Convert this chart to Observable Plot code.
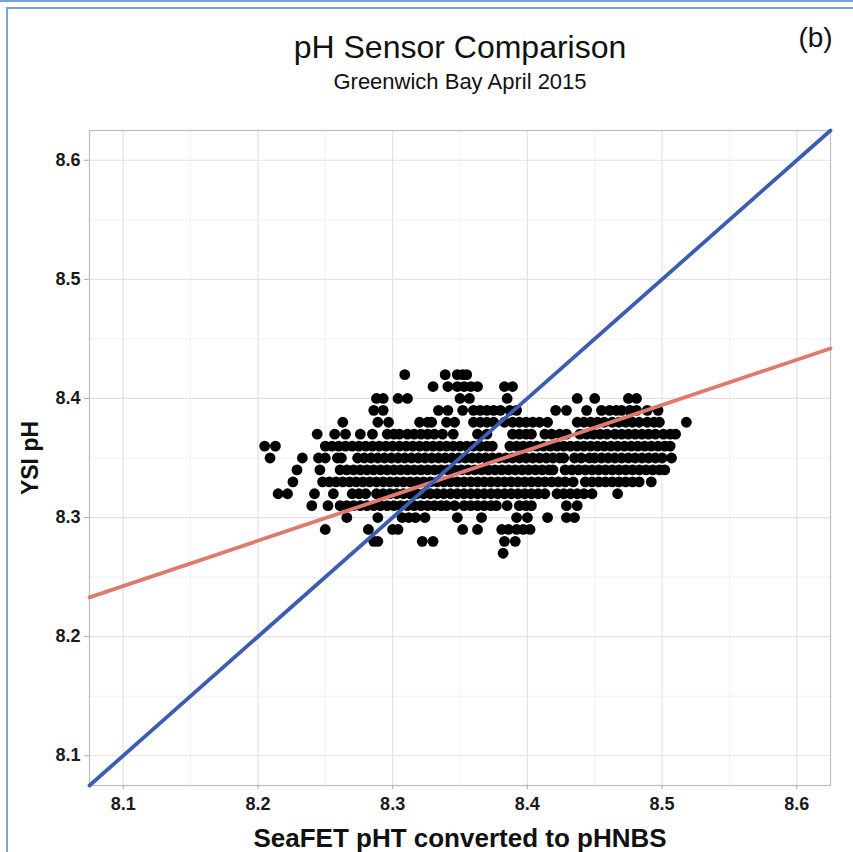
<!DOCTYPE html>
<html>
<head>
<meta charset="utf-8">
<script src="https://cdn.jsdelivr.net/npm/d3@7"></script>
<script src="https://cdn.jsdelivr.net/npm/@observablehq/plot@0.6"></script>
<style>
  body { margin: 0; background: #fff; font-family: "Liberation Sans", Arial, sans-serif; }
  #wrap { position: relative; width: 853px; height: 852px; overflow: hidden; }
  #topLine { position: absolute; left: 0; top: 0; width: 853px; height: 2px; background: #7ba3d9; }
  #box { position: absolute; left: 6px; top: 7px; width: 900px; height: 900px;
         border-left: 2px solid #7ba3d9; border-top: 2px solid #7ba3d9; }
  #chart { position: absolute; left: 0; top: 0; }
</style>
</head>
<body>
<div id="wrap">
  <div id="topLine"></div>
  <div id="box"></div>
  <div id="chart"></div>
</div>
<script>
// ---- Text ----
const titleText = "pH Sensor Comparison";
const subtitleText = "Greenwich Bay April 2015";
const panelTag = "(b)";
const xLabel = "SeaFET pHT converted to pHNBS";
const yLabel = "YSI pH";

// ---- Axes ----
const axisDomain = [8.075, 8.625];
const majorTicks = [8.1, 8.2, 8.3, 8.4, 8.5, 8.6];
const minorTicks = [8.15, 8.25, 8.35, 8.45, 8.55];

// ---- Reference lines ----
const oneToOneX = [8.075, 8.625];
const oneToOneY = [8.075, 8.625];
const fitX = [8.075, 8.625];
const fitY = [8.233, 8.442];

// ---- Observations: YSI pH rows and SeaFET values in each row ----
const ysiRows = [8.42, 8.41, 8.40, 8.39, 8.38, 8.37, 8.36, 8.35, 8.34, 8.33, 8.32, 8.31, 8.30, 8.29, 8.28, 8.27];
const seafetByRow = [
  [8.309, 8.339, 8.348, 8.352, 8.355],
  [8.330, 8.341, 8.348, 8.353, 8.358, 8.363, 8.383, 8.389],
  [8.288, 8.293, 8.304, 8.311, 8.350, 8.357, 8.385, 8.437, 8.450, 8.475, 8.481],
  [8.286, 8.293, 8.334, 8.341, 8.352, 8.360, 8.365, 8.370, 8.375, 8.380, 8.387, 8.392, 8.421, 8.429, 8.444, 8.455, 8.461, 8.466, 8.470, 8.476, 8.481, 8.489, 8.497],
  [8.263, 8.289, 8.297, 8.320, 8.326, 8.329, 8.340, 8.346, 8.360, 8.365, 8.370, 8.375, 8.383, 8.389, 8.394, 8.399, 8.404, 8.409, 8.415, 8.437, 8.442, 8.447, 8.452, 8.457, 8.463, 8.468, 8.473, 8.478, 8.483, 8.489, 8.494, 8.498, 8.518],
  [8.244, 8.257, 8.265, 8.276, 8.285, 8.296, 8.301, 8.305, 8.311, 8.316, 8.321, 8.326, 8.331, 8.337, 8.345, 8.363, 8.370, 8.389, 8.394, 8.399, 8.403, 8.413, 8.418, 8.424, 8.429, 8.439, 8.444, 8.449, 8.454, 8.459, 8.465, 8.470, 8.475, 8.480, 8.485, 8.490, 8.495, 8.501, 8.506, 8.510],
  [8.205, 8.213, 8.250, 8.255, 8.260, 8.265, 8.270, 8.275, 8.280, 8.285, 8.290, 8.295, 8.300, 8.305, 8.310, 8.315, 8.320, 8.325, 8.330, 8.335, 8.340, 8.345, 8.350, 8.355, 8.360, 8.365, 8.370, 8.374, 8.387, 8.392, 8.397, 8.402, 8.407, 8.412, 8.417, 8.422, 8.427, 8.432, 8.437, 8.442, 8.447, 8.452, 8.457, 8.462, 8.467, 8.472, 8.477, 8.482, 8.487, 8.492, 8.497, 8.502, 8.506],
  [8.209, 8.233, 8.245, 8.250, 8.259, 8.262, 8.274, 8.279, 8.284, 8.289, 8.294, 8.299, 8.304, 8.309, 8.314, 8.319, 8.324, 8.329, 8.334, 8.339, 8.344, 8.349, 8.354, 8.359, 8.364, 8.369, 8.374, 8.379, 8.384, 8.389, 8.394, 8.399, 8.404, 8.409, 8.414, 8.419, 8.424, 8.427, 8.435, 8.440, 8.446, 8.450, 8.455, 8.460, 8.465, 8.470, 8.475, 8.480, 8.485, 8.490, 8.495, 8.500, 8.507],
  [8.229, 8.246, 8.261, 8.266, 8.271, 8.276, 8.281, 8.286, 8.291, 8.296, 8.301, 8.306, 8.311, 8.316, 8.321, 8.326, 8.331, 8.336, 8.341, 8.346, 8.351, 8.356, 8.361, 8.366, 8.371, 8.376, 8.381, 8.386, 8.391, 8.396, 8.401, 8.406, 8.411, 8.416, 8.419, 8.428, 8.433, 8.438, 8.443, 8.448, 8.453, 8.458, 8.463, 8.468, 8.473, 8.478, 8.483, 8.488, 8.493, 8.498, 8.502],
  [8.226, 8.248, 8.253, 8.258, 8.263, 8.268, 8.273, 8.278, 8.283, 8.288, 8.293, 8.298, 8.303, 8.308, 8.313, 8.318, 8.323, 8.328, 8.333, 8.338, 8.343, 8.348, 8.353, 8.358, 8.363, 8.368, 8.373, 8.378, 8.383, 8.388, 8.393, 8.398, 8.403, 8.408, 8.413, 8.418, 8.423, 8.428, 8.434, 8.443, 8.448, 8.453, 8.458, 8.463, 8.468, 8.473, 8.478, 8.483, 8.492],
  [8.215, 8.222, 8.242, 8.256, 8.270, 8.275, 8.280, 8.288, 8.293, 8.298, 8.303, 8.308, 8.313, 8.318, 8.323, 8.328, 8.333, 8.338, 8.343, 8.348, 8.353, 8.358, 8.363, 8.368, 8.373, 8.378, 8.383, 8.388, 8.393, 8.398, 8.403, 8.408, 8.413, 8.422, 8.427, 8.432, 8.437, 8.442, 8.448, 8.467],
  [8.240, 8.252, 8.261, 8.266, 8.271, 8.276, 8.281, 8.286, 8.291, 8.296, 8.301, 8.306, 8.311, 8.316, 8.321, 8.326, 8.331, 8.336, 8.340, 8.346, 8.353, 8.358, 8.363, 8.368, 8.373, 8.377, 8.385, 8.394, 8.399, 8.403, 8.429, 8.437],
  [8.266, 8.289, 8.307, 8.312, 8.317, 8.324, 8.348, 8.366, 8.392, 8.400, 8.415, 8.429, 8.435],
  [8.250, 8.282, 8.300, 8.304, 8.352, 8.363, 8.381, 8.386, 8.392, 8.397, 8.402],
  [8.286, 8.289, 8.322, 8.330, 8.383, 8.391],
  [8.382]
];

const points = ysiRows.flatMap((yv, i) => seafetByRow[i].map(xv => ({x: xv, y: yv})));
const oneToOne = oneToOneX.map((v, i) => ({x: v, y: oneToOneY[i]}));
const fit = fitX.map((v, i) => ({x: v, y: fitY[i]}));

const font = "Liberation Sans, Arial, Helvetica, sans-serif";

const chart = Plot.plot({
  width: 853,
  height: 852,
  marginLeft: 89,
  marginRight: 23,
  marginTop: 130,
  marginBottom: 67,
  style: {fontFamily: font, background: "transparent", overflow: "visible"},
  x: {domain: axisDomain},
  y: {domain: axisDomain},
  marks: [
    Plot.gridX(minorTicks, {stroke: "#f0f0f0", strokeOpacity: 1, strokeWidth: 1}),
    Plot.gridY(minorTicks, {stroke: "#f0f0f0", strokeOpacity: 1, strokeWidth: 1}),
    Plot.gridX(majorTicks, {stroke: "#e3e3e3", strokeOpacity: 1, strokeWidth: 1.2}),
    Plot.gridY(majorTicks, {stroke: "#e3e3e3", strokeOpacity: 1, strokeWidth: 1.2}),
    Plot.frame({stroke: "#bdbdbd", strokeWidth: 1.2}),
    Plot.axisX(majorTicks, {tickSize: 4, tickPadding: 8, fontSize: 18, fontWeight: "bold",
      stroke: "#aaaaaa", fill: "#1a1a1a", label: null, tickFormat: d => d.toFixed(1)}),
    Plot.axisY(majorTicks, {tickSize: 5, tickPadding: 4, fontSize: 18, fontWeight: "bold",
      stroke: "#aaaaaa", fill: "#1a1a1a", label: null, tickFormat: d => d.toFixed(1)}),
    Plot.dot(points, {x: "x", y: "y", r: 5.4, fill: "#000", stroke: null}),
    Plot.line(fit, {x: "x", y: "y", stroke: "#df7a71", strokeWidth: 3.8}),
    Plot.line(oneToOne, {x: "x", y: "y", stroke: "#3d5db3", strokeWidth: 3.8}),
    Plot.text([titleText], {text: d => d, frameAnchor: "top", lineAnchor: "middle", dy: -83, fontSize: 32, fill: "#111"}),
    Plot.text([subtitleText], {text: d => d, frameAnchor: "top", lineAnchor: "middle", dy: -49, fontSize: 22, fill: "#111"}),
    Plot.text([panelTag], {text: d => d, frameAnchor: "top-right", lineAnchor: "middle", dx: -15, dy: -92, fontSize: 28, fill: "#111", textAnchor: "middle"}),
    Plot.text([xLabel], {text: d => d, frameAnchor: "bottom", lineAnchor: "middle", dy: 53, fontSize: 26, fontWeight: "bold", fill: "#111"}),
    Plot.text([yLabel], {text: d => d, frameAnchor: "left", lineAnchor: "middle", textAnchor: "middle", dx: -59, rotate: -90, fontSize: 23, fontWeight: "bold", fill: "#111"})
  ]
});
document.getElementById("chart").appendChild(chart);
</script>
</body>
</html>
